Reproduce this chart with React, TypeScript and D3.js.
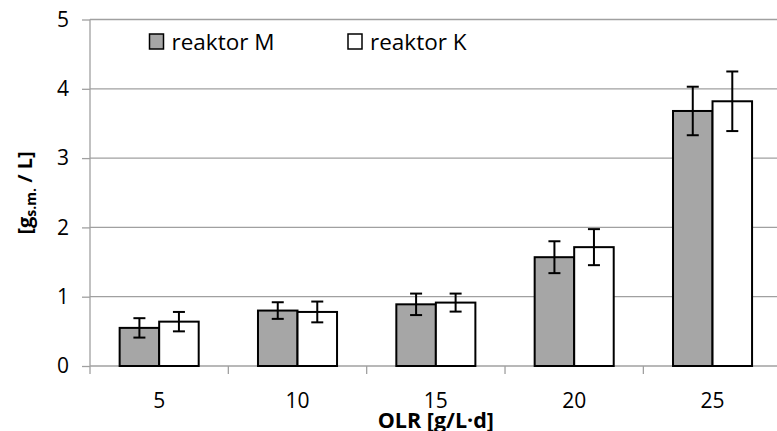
import React, { useRef, useEffect } from 'react';
import * as d3 from 'd3';

const categories = ['5', '10', '15', '20', '25'];
const seriesNames = ['reaktor M', 'reaktor K'];
const valuesM = [0.55, 0.80, 0.89, 1.57, 3.68];
const errorsM = [0.14, 0.12, 0.155, 0.23, 0.35];
const valuesK = [0.64, 0.78, 0.915, 1.715, 3.82];
const errorsK = [0.14, 0.15, 0.13, 0.26, 0.43];
const yTicks = [0, 1, 2, 3, 4, 5];

const fills = ['#a6a6a6', '#ffffff'];
const font = '"Open Sans", sans-serif';

function drawChart(node: SVGSVGElement) {
  const width = 777, height = 431;
  const margin = { top: 19.5, left: 90, bottom: 65 };
  const plotRight = 781.7;

  const svg = d3.select(node);
  svg.selectAll('*').remove();

  const x0 = d3.scaleBand<string>()
    .domain(categories)
    .range([margin.left, plotRight])
    .padding(0);

  const x1 = d3.scaleBand<string>()
    .domain(seriesNames)
    .range([0, x0.bandwidth()])
    .paddingInner(0)
    .paddingOuter(0.75);

  const y = d3.scaleLinear()
    .domain([0, 5])
    .range([height - margin.bottom, margin.top]);

  // gridlines
  svg.append('g')
    .selectAll('line')
    .data(yTicks.filter(d => d > 0))
    .join('line')
    .attr('x1', margin.left)
    .attr('x2', width)
    .attr('y1', d => y(d))
    .attr('y2', d => y(d))
    .attr('stroke', '#a0a0a0')
    .attr('stroke-width', 1.3);

  // y axis
  const yAxis = svg.append('g')
    .attr('transform', `translate(${margin.left},0)`)
    .call(d3.axisLeft(y).tickValues(yTicks).tickSize(8).tickPadding(13).tickFormat(d3.format('d')));
  yAxis.select('.domain').remove();
  yAxis.append('line')
    .attr('x1', 0).attr('x2', 0)
    .attr('y1', y(5)).attr('y2', y(0) + 8)
    .attr('stroke', '#a0a0a0').attr('stroke-width', 1.3);
  yAxis.selectAll('.tick line').attr('stroke', '#a0a0a0').attr('stroke-width', 1.3);
  yAxis.selectAll('.tick text')
    .attr('font-family', font).attr('font-size', 21).attr('fill', '#000');

  // x axis
  const xAxis = svg.append('g')
    .attr('transform', `translate(0,${y(0)})`);
  xAxis.append('line')
    .attr('x1', margin.left).attr('x2', width)
    .attr('y1', 0).attr('y2', 0)
    .attr('stroke', '#a0a0a0').attr('stroke-width', 1.3);
  xAxis.selectAll('line.tk')
    .data(categories)
    .join('line')
    .attr('class', 'tk')
    .attr('x1', d => (x0(d) as number) + x0.bandwidth())
    .attr('x2', d => (x0(d) as number) + x0.bandwidth())
    .attr('y1', 0).attr('y2', 8)
    .attr('stroke', '#a0a0a0').attr('stroke-width', 1.3);
  xAxis.selectAll('text')
    .data(categories)
    .join('text')
    .attr('x', d => (x0(d) as number) + x0.bandwidth() / 2)
    .attr('y', 42)
    .attr('text-anchor', 'middle')
    .attr('font-family', font).attr('font-size', 21)
    .text(d => d);

  // bars
  const series = [
    { name: seriesNames[0], values: valuesM, errors: errorsM, fill: fills[0] },
    { name: seriesNames[1], values: valuesK, errors: errorsK, fill: fills[1] },
  ];

  series.forEach(s => {
    const g = svg.append('g');
    g.selectAll('rect')
      .data(categories)
      .join('rect')
      .attr('x', d => (x0(d) as number) + (x1(s.name) as number))
      .attr('y', (d, i) => y(s.values[i]))
      .attr('width', x1.bandwidth())
      .attr('height', (d, i) => y(0) - y(s.values[i]))
      .attr('fill', s.fill)
      .attr('stroke', '#000')
      .attr('stroke-width', 2);

    const cx = (d: string) => (x0(d) as number) + (x1(s.name) as number) + x1.bandwidth() / 2;
    const eb = g.selectAll('g.err')
      .data(categories)
      .join('g')
      .attr('class', 'err');
    eb.append('line')
      .attr('x1', d => cx(d)).attr('x2', d => cx(d))
      .attr('y1', (d, i) => y(s.values[i] + s.errors[i]))
      .attr('y2', (d, i) => y(s.values[i] - s.errors[i]))
      .attr('stroke', '#000').attr('stroke-width', 2);
    [1, -1].forEach(sign => {
      eb.append('line')
        .attr('x1', d => cx(d) - 6).attr('x2', d => cx(d) + 6)
        .attr('y1', (d, i) => y(s.values[i] + sign * s.errors[i]))
        .attr('y2', (d, i) => y(s.values[i] + sign * s.errors[i]))
        .attr('stroke', '#000').attr('stroke-width', 2);
    });
  });

  // legend
  const legendX = [149.5, 348];
  series.forEach((s, i) => {
    svg.append('rect')
      .attr('x', legendX[i]).attr('y', 34)
      .attr('width', 14).attr('height', 15)
      .attr('fill', s.fill).attr('stroke', '#000').attr('stroke-width', 1.5);
    svg.append('text')
      .attr('x', legendX[i] + 22).attr('y', 49.5)
      .attr('font-family', font).attr('font-size', 22.5)
      .text(s.name);
  });

  // axis titles
  svg.append('text')
    .attr('x', (margin.left + plotRight) / 2)
    .attr('y', 427.5)
    .attr('text-anchor', 'middle')
    .attr('font-family', font).attr('font-size', 21.5).attr('font-weight', 'bold')
    .text('OLR [g/L·d]');

  const yt = svg.append('text')
    .attr('transform', `translate(32,${193}) rotate(-90)`)
    .attr('text-anchor', 'middle')
    .attr('font-family', font).attr('font-size', 20).attr('font-weight', 'bold');
  yt.append('tspan').text('[g');
  yt.append('tspan').attr('font-size', 14).attr('dy', 4).text('s.m.');
  yt.append('tspan').attr('dy', -4).text(' / L]');
}

export default function App() {
  const ref = useRef<SVGSVGElement>(null);
  useEffect(() => {
    if (ref.current) drawChart(ref.current);
  }, []);
  return (
    <svg ref={ref} width={777} height={431}
      style={{ position: 'absolute', left: 0, top: 0, background: '#fff' }} />
  );
}
